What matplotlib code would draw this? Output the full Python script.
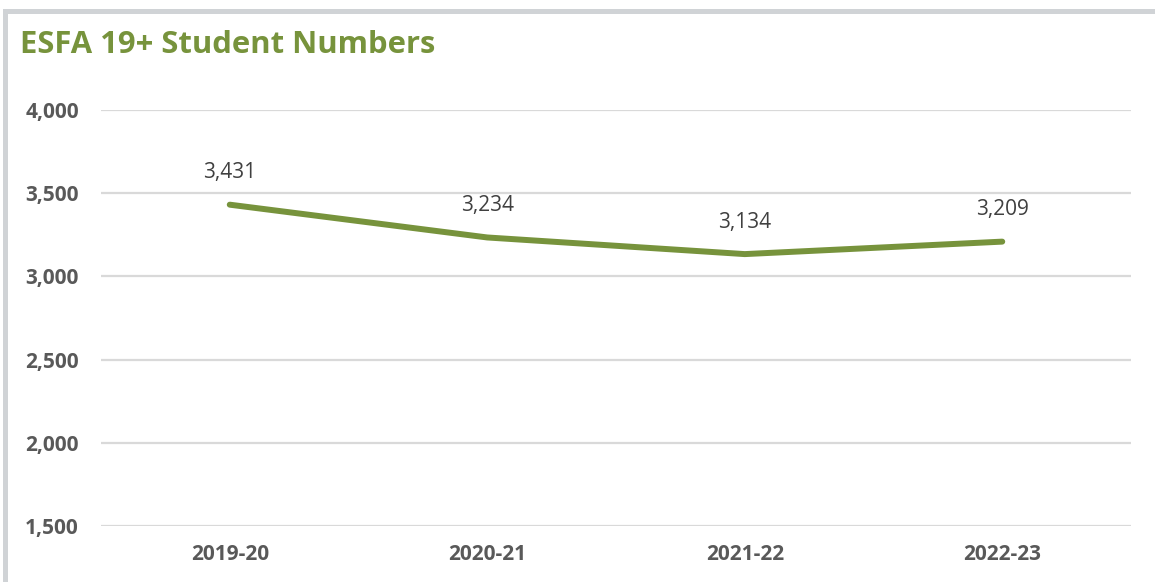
import matplotlib.pyplot as plt
from matplotlib.patches import Rectangle

years = ["2019-20", "2020-21", "2021-22", "2022-23"]
students = [3431, 3234, 3134, 3209]
y_ticks = [1500, 2000, 2500, 3000, 3500, 4000]

green = "#77933C"
W, H = 1155, 582

fig = plt.figure(figsize=(W / 100, H / 100), dpi=100)
ax = fig.add_axes([101 / W, 1 - 526 / H, 1030 / W, 416 / H])

x = range(len(years))
ax.plot(x, students, color=green, lw=4.3, solid_capstyle="round", zorder=3)
for xi, v in zip(x, students):
    ax.annotate(f"{v:,}", (xi, v), xytext=(0, 23), textcoords="offset points",
                ha="center", va="center", fontsize=15, color="#404040",
                family="Open Sans")

ax.set_xlim(-0.5, len(years) - 0.5)
ax.set_ylim(1500, 4000)
ax.set_yticks(y_ticks)
ax.set_yticklabels([f"{t:,}" for t in y_ticks])
ax.set_xticks(list(x))
ax.set_xticklabels(years)
ax.grid(axis="y", color="#D9D9D9", lw=1.6)
ax.set_axisbelow(True)
for s in ax.spines.values():
    s.set_visible(False)
ax.tick_params(length=0, labelsize=15, labelcolor="#595959")
ax.tick_params(axis="y", pad=16)
ax.tick_params(axis="x", pad=13)
for lab in ax.get_xticklabels() + ax.get_yticklabels():
    lab.set_fontweight("bold")
    lab.set_family("Open Sans")

fig.text(20 / W, 1 - 45 / H, "ESFA 19+ Student Numbers", color=green,
         fontsize=22.3, fontweight="bold", family="Open Sans", va="center")

# chart frame (top and left edges)
fig.add_artist(Rectangle((3 / W, 1 - 14 / H), 1, 5 / H, transform=fig.transFigure,
                         color="#D0D3D6", lw=0))
fig.add_artist(Rectangle((3 / W, 0), 5 / W, 1 - 9 / H, transform=fig.transFigure,
                         color="#D0D3D6", lw=0))

fig.savefig("out.png", dpi=100)
